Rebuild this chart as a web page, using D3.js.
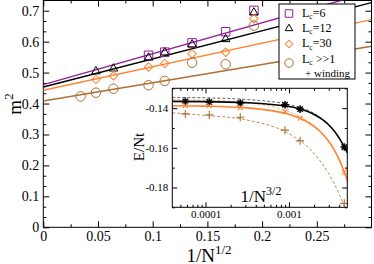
<!DOCTYPE html>
<html>
  <head>
    <meta charset="utf-8">
    <script src="https://d3js.org/d3.v7.min.js"></script>
    <style>
      body { margin: 0; background: #fff; }
    </style>
  </head>
  <body>
    <div id="chart"></div>
    <script>
      // main panel: m^2 against 1/N^(1/2)
      var xWinding = [0.0341, 0.0481, 0.0641, 0.0962, 0.111, 0.136, 0.1667, 0.1925];
      var m2Winding = [0.423, 0.435, 0.448, 0.459, 0.473, 0.532, 0.527, 0.652];
      var xLc12 = [0.0481, 0.0641, 0.0962, 0.111, 0.136, 0.1667, 0.1925];
      var m2Lc12 = [0.504, 0.513, 0.548, 0.565, 0.591, 0.608, 0.694];
      var xLc30 = [0.0481, 0.0641, 0.0962, 0.111, 0.136, 0.1667, 0.1925];
      var m2Lc30 = [0.478, 0.490, 0.518, 0.529, 0.561, 0.566, 0.674];
      var xLc6 = [0.0962, 0.111, 0.136, 0.1667, 0.1925];
      var m2Lc6 = [0.556, 0.566, 0.596, 0.632, 0.701];

      // linear fits, value at 1/N^(1/2) = 0 and 0.3
      var fitX = [0, 0.3];
      var fitLc6 = [0.461, 0.761];
      var fitLc12 = [0.4535, 0.726];
      var fitLc30 = [0.443, 0.671];
      var fitWinding = [0.408, 0.585];

      var mainXTicks = [0, 0.05, 0.1, 0.15, 0.2, 0.25];
      var mainYTicks = [0, 0.1, 0.2, 0.3, 0.4, 0.5, 0.6, 0.7];
      var legendLabels = ["=6", "=12", "=30", " >>1"];

      // inset: E/Nt against 1/N^(3/2)
      var insetX = [5.73e-5, 1.11e-4, 2.61e-4, 8.96e-4, 1.36e-3, 4.6e-3];
      var eStar = [-0.1366, -0.1369, -0.1374, -0.1383, -0.1405, -0.1596];
      var eCross = [-0.1387, -0.1388, -0.1397, -0.1417, -0.1451, -0.1723];
      var ePlus = [-0.1429, -0.1434, -0.1446, -0.1511, -0.1565, -0.1880];

      // inset curves, read at these x positions
      var curveX = [4e-5, 1e-4, 3e-4, 1e-3, 1.5e-3, 2e-3, 2.5e-3, 3e-3, 3.5e-3, 4e-3, 4.5e-3, 5e-3];
      var curveStar = [-0.1366, -0.1367, -0.1372, -0.1392, -0.1410, -0.1432, -0.1457, -0.1485, -0.1516, -0.1551, -0.1588, -0.1625];
      var curveStarDash = [-0.1346, -0.1348, -0.1356, -0.1382, -0.1402, -0.1426, -0.1453, -0.1482, -0.1514, -0.1550, -0.1588, -0.1628];
      var curveCross = [-0.1388, -0.1390, -0.1398, -0.1431, -0.1460, -0.1492, -0.1528, -0.1568, -0.1612, -0.1660, -0.1712, -0.1765];
      var curveCrossDash = [-0.1357, -0.1360, -0.1372, -0.1418, -0.1452, -0.1488, -0.1526, -0.1567, -0.1611, -0.1660, -0.1712, -0.1768];
      var curvePlus = [-0.1424, -0.1437, -0.1458, -0.1529, -0.1578, -0.1629, -0.1680, -0.1731, -0.1782, -0.1833, -0.1884, -0.1935];

      var insetYTicks = [-0.18, -0.16, -0.14];
      var insetYMinor = [-0.19, -0.17, -0.15, -0.13];
      var insetXTicks = [1e-4, 1e-3];
      var insetXLabels = ["0.0001", "0.001"];

      var purple = "#921e9c", orange = "#ff8433", brown = "#ad6f33";
      var serif = "Liberation Serif";

      var W = 374, H = 264;
      var svg = d3.select("#chart").append("svg")
        .attr("width", W).attr("height", H)
        .attr("font-family", serif);
      svg.append("rect").attr("width", W).attr("height", H).attr("fill", "#fff");

      var x = d3.scaleLinear().domain([0, 0.3]).range([43.3, 371.5]);
      var y = d3.scaleLinear().domain([0, 0.733]).range([227.3, 0.5]);

      // draws inward ticks with d3 axes, labels optional
      function ticks(g, axisFn, scale, values, size, fmt, pad) {
        var a = axisFn(scale).tickValues(values).tickSizeInner(-size).tickSizeOuter(0).tickPadding(pad || 4);
        a.tickFormat(fmt || "");
        g.call(a);
        g.attr("font-family", serif).attr("font-size", null);
        g.select(".domain").remove();
        g.selectAll("line").attr("stroke", "#000");
        g.selectAll("text").attr("font-family", serif);
        return g;
      }

      var minorX = d3.range(0.025, 0.3, 0.05);
      var minorY = d3.range(0, 0.73, 0.1 / 3).filter(function(v) { return Math.abs(v * 10 - Math.round(v * 10)) > 0.01; });

      var axes = svg.append("g").attr("font-size", 14);
      ticks(axes.append("g").attr("transform", "translate(0," + y.range()[0] + ")"), d3.axisBottom, x, mainXTicks, 6, function(d) { return d === 0 ? "0" : String(+d.toFixed(2)); }, 4);
      ticks(axes.append("g").attr("transform", "translate(0," + y.range()[0] + ")"), d3.axisBottom, x, minorX, 3);
      ticks(axes.append("g").attr("transform", "translate(0," + y.range()[1] + ")"), d3.axisTop, x, mainXTicks, 6);
      ticks(axes.append("g").attr("transform", "translate(0," + y.range()[1] + ")"), d3.axisTop, x, minorX, 3);
      ticks(axes.append("g").attr("transform", "translate(" + x.range()[0] + ",0)"), d3.axisLeft, y, mainYTicks, 6, function(d) { return d === 0 ? "0" : d.toFixed(1); }, 4);
      ticks(axes.append("g").attr("transform", "translate(" + x.range()[0] + ",0)"), d3.axisLeft, y, minorY, 3);
      ticks(axes.append("g").attr("transform", "translate(" + x.range()[1] + ",0)"), d3.axisRight, y, mainYTicks, 6);
      ticks(axes.append("g").attr("transform", "translate(" + x.range()[1] + ",0)"), d3.axisRight, y, minorY, 3);

      svg.append("rect")
        .attr("x", x.range()[0]).attr("y", y.range()[1])
        .attr("width", x.range()[1] - x.range()[0]).attr("height", y.range()[0] - y.range()[1])
        .attr("fill", "none").attr("stroke", "#000").attr("stroke-width", 1);

      svg.append("clipPath").attr("id", "mainclip").append("rect")
        .attr("x", x.range()[0]).attr("y", y.range()[1])
        .attr("width", x.range()[1] - x.range()[0]).attr("height", y.range()[0] - y.range()[1]);

      var series = [
        { xs: xLc6, ys: m2Lc6, fit: fitLc6, color: purple, shape: "square" },
        { xs: xLc12, ys: m2Lc12, fit: fitLc12, color: "#000", shape: "triangle" },
        { xs: xLc30, ys: m2Lc30, fit: fitLc30, color: orange, shape: "diamond" },
        { xs: xWinding, ys: m2Winding, fit: fitWinding, color: brown, shape: "circle" }
      ];

      function symbolPath(shape, s) {
        if (shape === "square") return d3.symbol(d3.symbolSquare, s * s)();
        if (shape === "circle") return d3.symbol(d3.symbolCircle, Math.PI * s * s / 4)();
        if (shape === "triangle") return d3.symbol(d3.symbolTriangle, s * s * Math.sqrt(3) / 4)();
        return d3.symbol(d3.symbolSquare, s * s / 2)();
      }

      var line = d3.line().x(function(d) { return x(d[0]); }).y(function(d) { return y(d[1]); });
      var plot = svg.append("g").attr("clip-path", "url(#mainclip)");

      series.forEach(function(s) {
        plot.append("path")
          .attr("d", line(d3.zip(fitX, s.fit)))
          .attr("fill", "none").attr("stroke", s.color).attr("stroke-width", 1.4);
      });
      series.forEach(function(s) {
        plot.selectAll(null).data(d3.zip(s.xs, s.ys)).enter().append("path")
          .attr("d", symbolPath(s.shape, s.shape === "circle" ? 9.5 : 8.5))
          .attr("transform", function(d) {
            return "translate(" + x(d[0]) + "," + y(d[1]) + ")" + (s.shape === "diamond" ? " rotate(45)" : "");
          })
          .attr("fill", "none").attr("stroke", s.color).attr("stroke-width", 1);
      });

      // legend
      var leg = svg.append("g").attr("font-size", 12);
      leg.append("rect").attr("x", 279).attr("y", 4).attr("width", 76).attr("height", 75)
        .attr("fill", "#fff").attr("stroke", "#000").attr("stroke-width", 1);
      var rowY = [13.5, 28.5, 44, 63];
      var textY = [16.5, 31.5, 47, 62.5];
      series.forEach(function(s, i) {
        leg.append("path")
          .attr("d", symbolPath(s.shape, s.shape === "circle" ? 8.5 : 7.5))
          .attr("transform", "translate(289," + rowY[i] + ")" + (s.shape === "diamond" ? " rotate(45)" : ""))
          .attr("fill", "none").attr("stroke", s.color).attr("stroke-width", 1);
        var t = leg.append("text").attr("x", 302).attr("y", textY[i]);
        t.append("tspan").text("L");
        t.append("tspan").attr("dy", 2.5).attr("font-size", 7.5).text("c");
        t.append("tspan").attr("dy", -2.5).text(legendLabels[i]);
      });
      leg.append("text").attr("x", 305).attr("y", 76.5).attr("font-size", 11).text("+ winding");

      // axis titles
      var xt = svg.append("text").attr("x", 209).attr("y", 261.5).attr("text-anchor", "middle").attr("font-size", 19);
      xt.append("tspan").text("1/N");
      xt.append("tspan").attr("dy", -8).attr("font-size", 13).text("1/2");
      var yt = svg.append("text").attr("transform", "translate(20.5,104) rotate(-90)").attr("text-anchor", "middle").attr("font-size", 19);
      yt.append("tspan").text("m");
      yt.append("tspan").attr("dy", -8).attr("font-size", 13).text("2");

      // inset
      var ix = d3.scaleLog().domain([4e-5, 5e-3]).range([172.3, 347.3]);
      var iy = d3.scaleLinear().domain([-0.19, -0.13]).range([207.3, 88.3]);

      svg.append("rect")
        .attr("x", ix.range()[0]).attr("y", iy.range()[1])
        .attr("width", ix.range()[1] - ix.range()[0]).attr("height", iy.range()[0] - iy.range()[1])
        .attr("fill", "#fff");

      var minorLog = [5e-5, 6e-5, 7e-5, 8e-5, 9e-5, 2e-4, 3e-4, 4e-4, 5e-4, 6e-4, 7e-4, 8e-4, 9e-4, 2e-3, 3e-3, 4e-3];
      var iax = svg.append("g").attr("font-size", 11);
      ticks(iax.append("g").attr("transform", "translate(0," + iy.range()[0] + ")"), d3.axisBottom, ix, insetXTicks, 5, function(d, i) { return insetXLabels[i]; }, 3);
      ticks(iax.append("g").attr("transform", "translate(0," + iy.range()[0] + ")"), d3.axisBottom, ix, minorLog, 2.5);
      ticks(iax.append("g").attr("transform", "translate(0," + iy.range()[1] + ")"), d3.axisTop, ix, insetXTicks, 5);
      ticks(iax.append("g").attr("transform", "translate(0," + iy.range()[1] + ")"), d3.axisTop, ix, minorLog, 2.5);
      ticks(iax.append("g").attr("transform", "translate(" + ix.range()[0] + ",0)"), d3.axisLeft, iy, insetYTicks, 5, function(d) { return d.toFixed(2); }, 4);
      ticks(iax.append("g").attr("transform", "translate(" + ix.range()[0] + ",0)"), d3.axisLeft, iy, insetYMinor, 2.5);
      ticks(iax.append("g").attr("transform", "translate(" + ix.range()[1] + ",0)"), d3.axisRight, iy, insetYTicks, 5);
      ticks(iax.append("g").attr("transform", "translate(" + ix.range()[1] + ",0)"), d3.axisRight, iy, insetYMinor, 2.5);

      svg.append("clipPath").attr("id", "insetclip").append("rect")
        .attr("x", ix.range()[0]).attr("y", iy.range()[1])
        .attr("width", ix.range()[1] - ix.range()[0]).attr("height", iy.range()[0] - iy.range()[1]);

      var iline = d3.line().curve(d3.curveMonotoneX)
        .x(function(d) { return ix(d[0]); }).y(function(d) { return iy(d[1]); });
      var inset = svg.append("g").attr("clip-path", "url(#insetclip)");

      var curves = [
        { ys: curveStarDash, color: "#666", w: 1, dash: "3,2" },
        { ys: curveCrossDash, color: "#ffb585", w: 1, dash: "3,2" },
        { ys: curvePlus, color: "#c08a55", w: 1, dash: "3,2" },
        { ys: curveStar, color: "#000", w: 1.6, dash: null },
        { ys: curveCross, color: orange, w: 1.6, dash: null }
      ];
      curves.forEach(function(c) {
        inset.append("path").attr("d", iline(d3.zip(curveX, c.ys)))
          .attr("fill", "none").attr("stroke", c.color).attr("stroke-width", c.w)
          .attr("stroke-dasharray", c.dash);
      });

      // stroke markers: arms at given angles (degrees)
      function spokes(r, angles) {
        return angles.map(function(a) {
          var c = Math.cos(a * Math.PI / 180) * r, s = Math.sin(a * Math.PI / 180) * r;
          return "M" + (-c) + "," + (-s) + "L" + c + "," + s;
        }).join("");
      }
      var marks = [
        { ys: eStar, d: spokes(3.8, [0, 45, 90, 135]), color: "#000", w: 1.5 },
        { ys: eCross, d: spokes(3.5, [45, 135]), color: orange, w: 1.1 },
        { ys: ePlus, d: spokes(4, [0, 90]), color: brown, w: 1.1 }
      ];
      marks.forEach(function(m) {
        inset.selectAll(null).data(d3.zip(insetX, m.ys)).enter().append("path")
          .attr("d", m.d)
          .attr("transform", function(d) { return "translate(" + ix(d[0]) + "," + iy(d[1]) + ")"; })
          .attr("fill", "none").attr("stroke", m.color).attr("stroke-width", m.w);
      });

      svg.append("rect")
        .attr("x", ix.range()[0]).attr("y", iy.range()[1])
        .attr("width", ix.range()[1] - ix.range()[0]).attr("height", iy.range()[0] - iy.range()[1])
        .attr("fill", "none").attr("stroke", "#000").attr("stroke-width", 1);

      var it = svg.append("text").attr("x", 261).attr("y", 202).attr("text-anchor", "middle").attr("font-size", 17);
      it.append("tspan").text("1/N");
      it.append("tspan").attr("dy", -7).attr("font-size", 12).text("3/2");
      svg.append("text").attr("transform", "translate(143.5,147) rotate(-90)")
        .attr("text-anchor", "middle").attr("font-size", 15).text("E/Nt");
    </script>
  </body>
</html>
